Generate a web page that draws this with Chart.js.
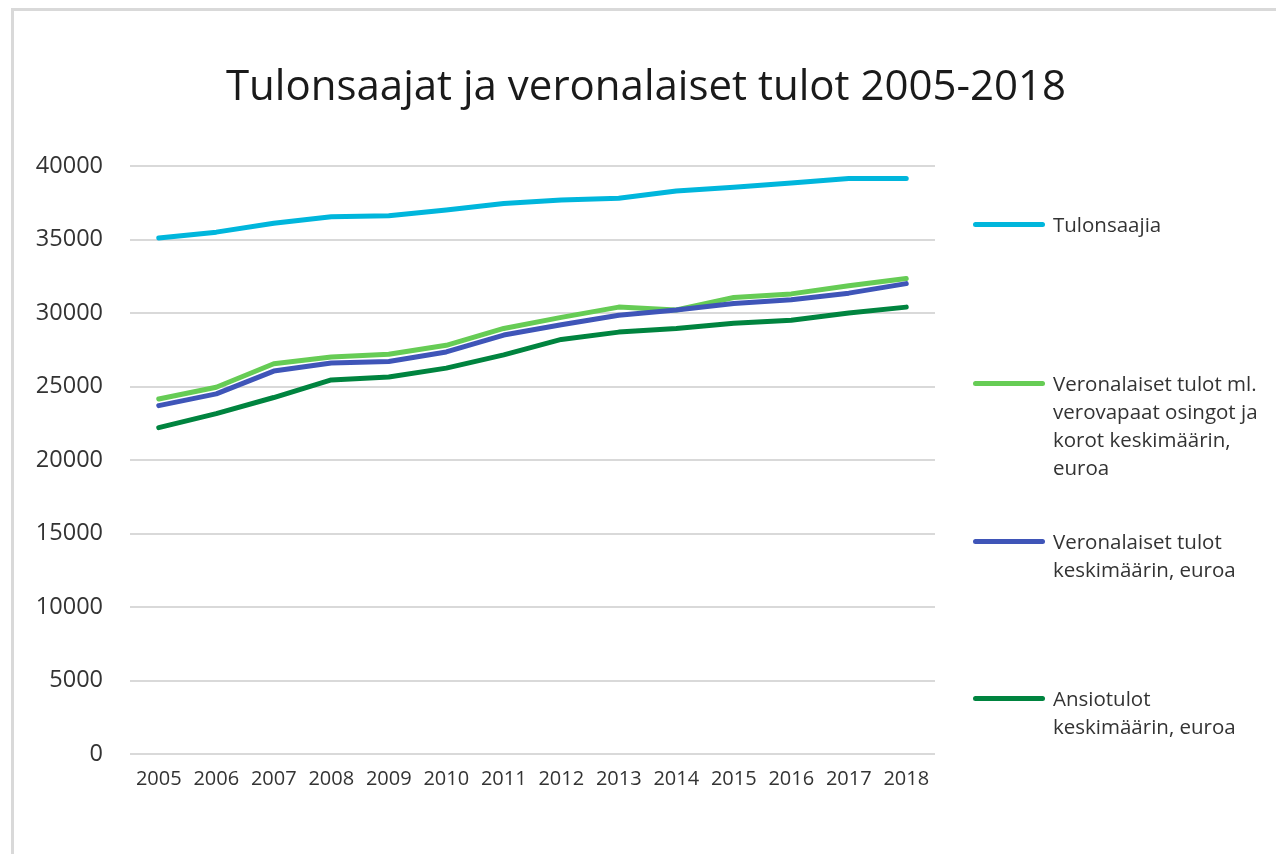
<!DOCTYPE html>
<html>
<head>
<meta charset="utf-8">
<script src="https://cdn.jsdelivr.net/npm/chart.js@4/dist/chart.umd.min.js"></script>
<style>
  html, body { margin: 0; padding: 0; background: #fff; }
  body { width: 1276px; height: 854px; position: relative; overflow: hidden; font-family: "Open Sans", sans-serif; }
  #frame { position: absolute; left: 11px; top: 8px; width: 1400px; height: 1000px; border-left: 3px solid #d9d9d9; border-top: 3px solid #d9d9d9; box-sizing: border-box; }
  #title { position: absolute; left: 0; width: 1292px; top: 56px; text-align: center; font-size: 42px; color: #1a1a1a; line-height: 56px; }
  #chartWrap { position: absolute; left: 0; top: 0; width: 1276px; height: 854px; }
  .leg { position: absolute; left: 973px; width: 300px; font-size: 20.5px; color: #333; line-height: 28px; }
  .leg .sw { position: absolute; left: 0; width: 72px; height: 5px; border-radius: 3px; top: 12px; }
  .leg .tx { position: absolute; left: 80px; top: 0; width: 220px; white-space: nowrap; }
</style>
</head>
<body>
<div id="frame"></div>
<div id="chartWrap"><canvas id="c" width="1276" height="854"></canvas></div>
<div id="title">Tulonsaajat ja veronalaiset tulot 2005-2018</div>
<div id="legend"></div>
<script>
const years = ['2005','2006','2007','2008','2009','2010','2011','2012','2013','2014','2015','2016','2017','2018'];
const yTicks = [0, 5000, 10000, 15000, 20000, 25000, 30000, 35000, 40000];
const seriesNameLines = [
  ['Tulonsaajia'],
  ['Veronalaiset tulot ml.', 'verovapaat osingot ja', 'korot keskimäärin,', 'euroa'],
  ['Veronalaiset tulot', 'keskimäärin, euroa'],
  ['Ansiotulot', 'keskimäärin, euroa']
];
const tulonsaajia = [35100, 35500, 36100, 36550, 36620, 37000, 37450, 37690, 37800, 38300, 38550, 38850, 39150, 39150];
const veronalaisetMl = [24150, 24950, 26550, 27000, 27200, 27800, 28950, 29700, 30400, 30200, 31050, 31300, 31850, 32350];
const veronalaiset = [23700, 24500, 26050, 26600, 26700, 27350, 28500, 29200, 29850, 30200, 30650, 30900, 31350, 32000];
const ansiotulot = [22200, 23150, 24250, 25450, 25650, 26250, 27150, 28200, 28700, 28950, 29300, 29500, 30000, 30400];
const colors = ['#00b6dc', '#66cc55', '#3f55b8', '#00843f'];
const legendTops = [210, 369, 527, 684];

const allSeries = [tulonsaajia, veronalaisetMl, veronalaiset, ansiotulot];
const datasets = allSeries.map((d, i) => ({
  label: seriesNameLines[i].join(' '),
  data: d,
  borderColor: colors[i],
  backgroundColor: colors[i],
  borderWidth: 5,
  pointRadius: 0,
  pointHoverRadius: 0,
  tension: 0,
  fill: false,
  borderCapStyle: 'round',
  borderJoinStyle: 'round',
  order: 4 - i
}));

new Chart(document.getElementById('c'), {
  type: 'line',
  data: { labels: years, datasets },
  options: {
    responsive: false,
    animation: false,
    events: [],
    layout: { padding: { left: 20, right: 341, top: 166, bottom: 60 } },
    plugins: { legend: { display: false }, title: { display: false }, tooltip: { enabled: false } },
    scales: {
      x: {
        offset: true,
        grid: { display: false, drawTicks: false },
        border: { display: false },
        ticks: { color: '#333', font: { family: 'Open Sans', size: 20 }, padding: 13, maxRotation: 0, autoSkip: false },
        afterFit: s => { s.height = 40; }
      },
      y: {
        min: 0, max: 40000,
        afterBuildTicks: s => { s.ticks = yTicks.map(v => ({ value: v })); },
        grid: { color: '#d9d9d9', lineWidth: 2, drawTicks: false },
        border: { display: false },
        ticks: { color: '#333', font: { family: 'Open Sans', size: 23.5 }, padding: 27, callback: v => String(v) },
        afterFit: s => { s.width = 110; }
      }
    }
  }
});

const legend = document.getElementById('legend');
seriesNameLines.forEach((lines, i) => {
  const el = document.createElement('div');
  el.className = 'leg';
  el.style.top = legendTops[i] + 'px';
  const sw = document.createElement('div');
  sw.className = 'sw';
  sw.style.background = colors[i];
  const tx = document.createElement('div');
  tx.className = 'tx';
  lines.forEach(line => {
    const l = document.createElement('div');
    l.textContent = line;
    tx.appendChild(l);
  });
  el.appendChild(sw); el.appendChild(tx);
  legend.appendChild(el);
});
</script>
</body>
</html>
